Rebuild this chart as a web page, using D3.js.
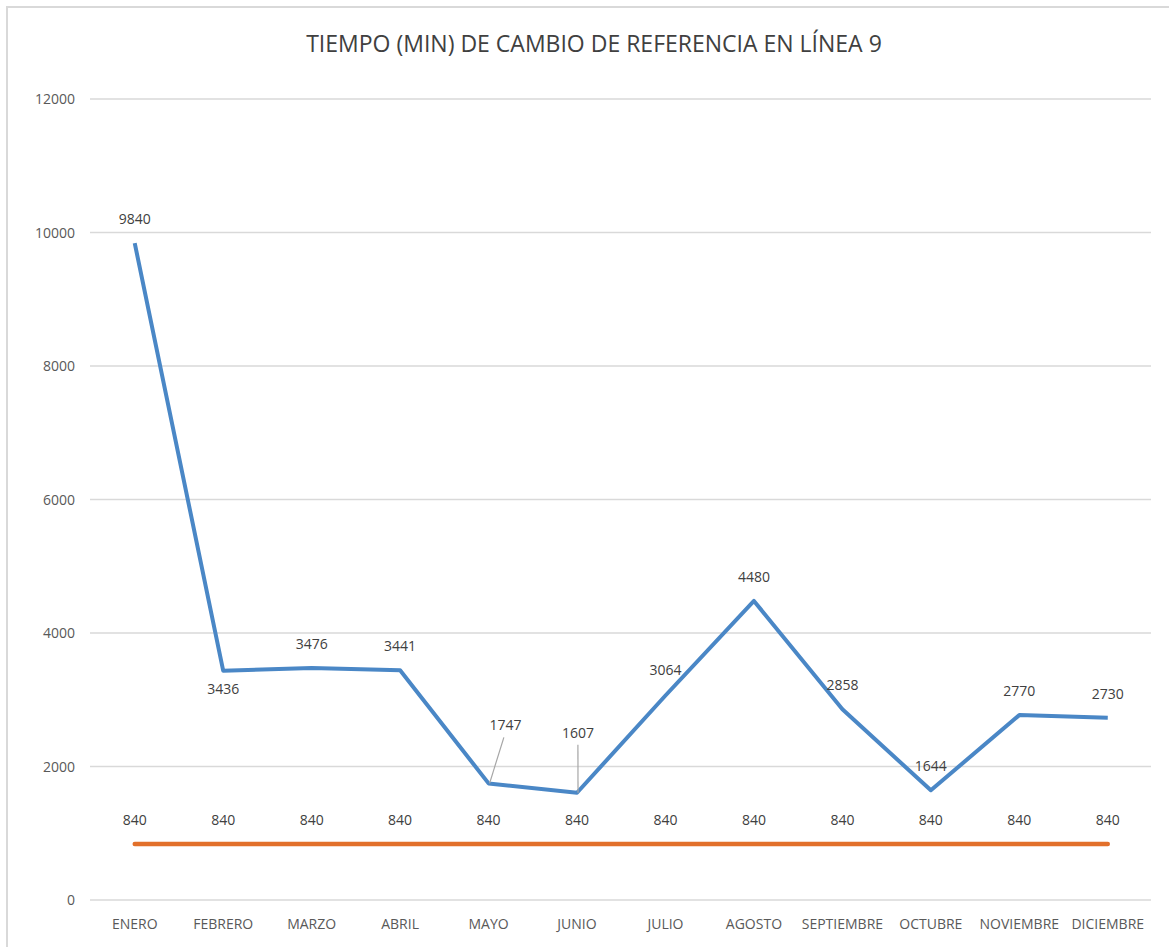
<!DOCTYPE html>
<html lang="es">
<meta charset="utf-8">
<style>
body { margin: 0; background: #fff; }
text { font-family: "Open Sans", "Noto Sans", sans-serif; }
.grid line { stroke: #d9d9d9; stroke-width: 1.3px; }
.lbl { font-size: 14px; fill: #404040; }
.axis-text { font-size: 14px; fill: #595959; }
</style>
<body>
<div id="chart"></div>
<script src="https://d3js.org/d3.v7.min.js"></script>
<script>
"use strict";

// data
const months = ["ENERO", "FEBRERO", "MARZO", "ABRIL", "MAYO", "JUNIO",
                "JULIO", "AGOSTO", "SEPTIEMBRE", "OCTUBRE", "NOVIEMBRE", "DICIEMBRE"];
const tiempo = [9840, 3436, 3476, 3441, 1747, 1607, 3064, 4480, 2858, 1644, 2770, 2730];
const meta = [840, 840, 840, 840, 840, 840, 840, 840, 840, 840, 840, 840];
const yTicks = [0, 2000, 4000, 6000, 8000, 10000, 12000];

const W = 1169, H = 947;

const svg = d3.select("#chart").append("svg")
    .attr("width", W)
    .attr("height", H);

// outer frame (only top and left visible in the picture)
svg.append("path")
    .attr("d", "M7," + H + "V7H" + W)
    .attr("fill", "none")
    .attr("stroke", "#d9d9d9")
    .attr("stroke-width", 2);

const x = d3.scalePoint()
    .domain(months)
    .range([90.5, 1152])
    .padding(0.5);

const y = d3.scaleLinear()
    .domain([0, 12000])
    .range([900, 99]);

// gridlines
svg.append("g").attr("class", "grid")
  .selectAll("line")
  .data(yTicks)
  .join("line")
    .attr("x1", 90).attr("x2", 1151)
    .attr("y1", d => y(d)).attr("y2", d => y(d));

// y labels
svg.append("g")
  .selectAll("text")
  .data(yTicks)
  .join("text")
    .attr("class", "axis-text")
    .attr("x", 75)
    .attr("y", d => y(d) + 5)
    .attr("text-anchor", "end")
    .text(d => d);

// x labels
svg.append("g")
  .selectAll("text")
  .data(months)
  .join("text")
    .attr("class", "axis-text")
    .attr("x", d => x(d))
    .attr("y", 929)
    .attr("text-anchor", "middle")
    .text(d => d);

const line = d3.line()
    .x((d, i) => x(months[i]))
    .y(d => y(d));

svg.append("path")
    .datum(meta)
    .attr("d", line)
    .attr("fill", "none")
    .attr("stroke", "#e2702b")
    .attr("stroke-width", 4.5)
    .attr("stroke-linecap", "round");

svg.append("path")
    .datum(tiempo)
    .attr("d", line)
    .attr("fill", "none")
    .attr("stroke", "#4a87c6")
    .attr("stroke-width", 4)
    .attr("stroke-linejoin", "round");

// data label offsets (dx, dy of label centre); leader = draws a gray line
const offs = tiempo.map(() => ({dx: 0, dy: -24, leader: false}));
offs[1] = {dx: 0, dy: 18, leader: false};
offs[4] = {dx: 17, dy: -58, leader: true};
offs[5] = {dx: 1, dy: -60, leader: true};
offs[6] = {dx: 0, dy: -25, leader: false};

svg.append("g")
  .selectAll("line")
  .data(d3.range(tiempo.length).filter(i => offs[i].leader))
  .join("line")
    .attr("x1", i => x(months[i]) + 1)
    .attr("y1", i => y(tiempo[i]))
    .attr("x2", i => x(months[i]) + offs[i].dx * 0.9)
    .attr("y2", i => y(tiempo[i]) + offs[i].dy + 12)
    .attr("stroke", "#a6a6a6")
    .attr("stroke-width", 1.2);

svg.append("g")
  .selectAll("text")
  .data(tiempo)
  .join("text")
    .attr("class", "lbl")
    .attr("x", (d, i) => x(months[i]) + offs[i].dx)
    .attr("y", (d, i) => y(d) + offs[i].dy + 5)
    .attr("text-anchor", "middle")
    .text(d => d);

svg.append("g")
  .selectAll("text")
  .data(meta)
  .join("text")
    .attr("class", "lbl")
    .attr("x", (d, i) => x(months[i]))
    .attr("y", d => y(d) - 24 + 5)
    .attr("text-anchor", "middle")
    .text(d => d);

svg.append("text")
    .attr("x", 594)
    .attr("y", 52)
    .attr("text-anchor", "middle")
    .style("font-size", "23px")
    .style("fill", "#404040")
    .text("TIEMPO (MIN) DE CAMBIO DE REFERENCIA EN LÍNEA 9");
</script>
</body>
</html>
